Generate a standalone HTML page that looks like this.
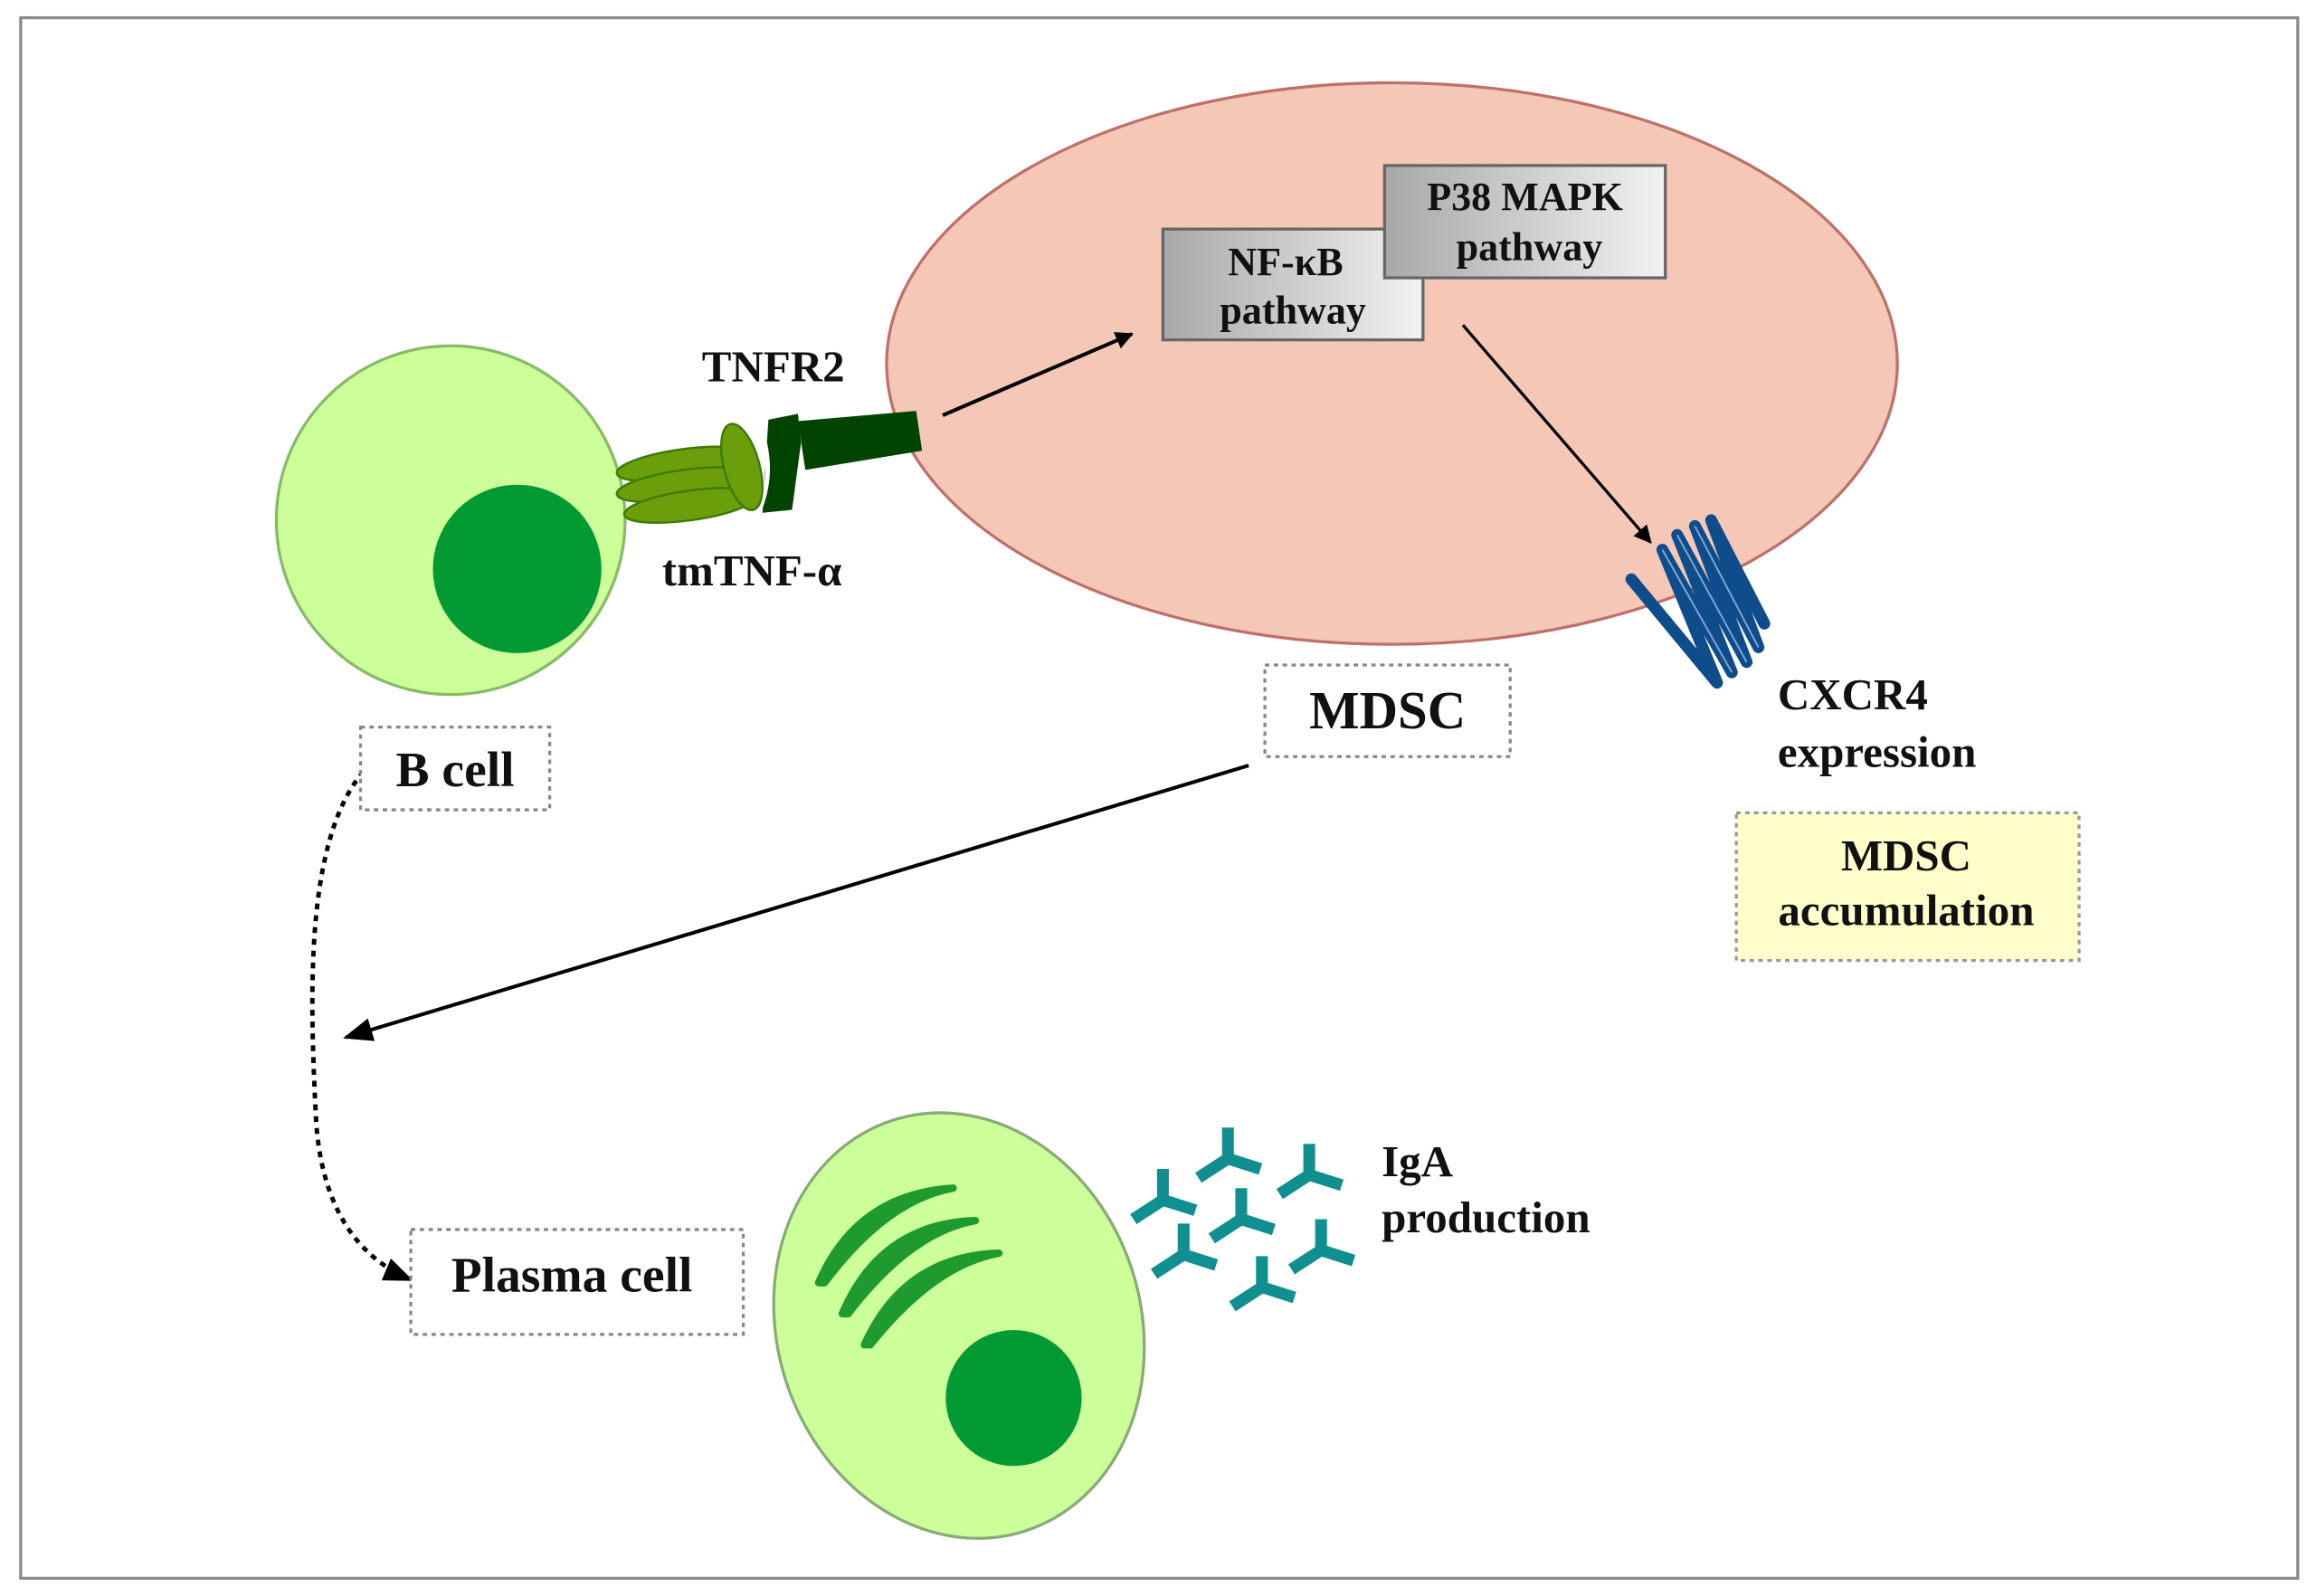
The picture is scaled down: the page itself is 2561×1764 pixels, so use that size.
<!DOCTYPE html>
<html><head><meta charset="utf-8">
<style>html,body{margin:0;padding:0;background:#fff}svg{display:block}
text{font-family:"Liberation Serif",serif;font-weight:bold;fill:#111}</style></head>
<body>
<svg width="2561" height="1764" viewBox="0 0 1568 1080" preserveAspectRatio="none" xmlns="http://www.w3.org/2000/svg">
<defs>
<linearGradient id="g" x1="0" x2="1" y1="0" y2="0"><stop offset="0" stop-color="#a8a8a8"/><stop offset="1" stop-color="#f2f2f2"/></linearGradient>
<marker id="ah" viewBox="0 0 10 10" refX="9" refY="5" markerWidth="16" markerHeight="12" orient="auto" markerUnits="userSpaceOnUse"><path d="M0,0 L10,5 L0,10 z" fill="#000"/></marker>
<marker id="ah2" viewBox="0 0 10 10" refX="9" refY="5" markerWidth="30" markerHeight="20" orient="auto" markerUnits="userSpaceOnUse"><path d="M0,1 L10,5 L0,9 z" fill="#000"/></marker>
</defs>
<rect x="14" y="12" width="1541" height="1056" fill="#fff" stroke="#8a8a8a" stroke-width="2"/>

<ellipse cx="942" cy="246" rx="342" ry="190" fill="#f4c7b7" stroke="#c0706a" stroke-width="2"/>

<circle cx="305" cy="352" r="118" fill="#ccff99" stroke="#88bb66" stroke-width="2"/>
<circle cx="350" cy="385" r="57" fill="#039933"/>

<path d="M540,285 L620,278 L624,305 L545,318 Z" fill="#004400"/>
<path d="M520,284 L540,280 L542,300 L536,345 L516,347 Z" fill="#004400"/>
<path d="M512,283 Q526,315 514,345" fill="none" stroke="#fff" stroke-width="3"/>
<g fill="#6a9e0a" stroke="#3d7a08" stroke-width="1.5">
<ellipse cx="462" cy="314" rx="45" ry="10" transform="rotate(-8 462 314)"/>
<ellipse cx="463" cy="328" rx="46" ry="10" transform="rotate(-8 463 328)"/>
<ellipse cx="467" cy="342" rx="45" ry="10" transform="rotate(-8 467 342)"/>
<ellipse cx="502" cy="316" rx="12" ry="30" transform="rotate(-15 502 316)"/>
</g>
<text x="475" y="258" font-size="30">TNFR2</text>
<text x="448" y="396" font-size="30">tmTNF-α</text>

<rect x="787" y="155" width="176" height="75" fill="url(#g)" stroke="#666" stroke-width="2"/>
<text x="870" y="186" font-size="27" text-anchor="middle">NF-κB</text>
<text x="875" y="219" font-size="27" text-anchor="middle">pathway</text>
<rect x="937" y="112" width="190" height="76" fill="url(#g)" stroke="#666" stroke-width="2"/>
<text x="1032" y="142" font-size="27" text-anchor="middle">P38 MAPK</text>
<text x="1035" y="176" font-size="27" text-anchor="middle">pathway</text>

<line x1="638" y1="281" x2="766" y2="226" stroke="#000" stroke-width="2.5" marker-end="url(#ah)"/>
<line x1="990" y1="220" x2="1117" y2="367" stroke="#000" stroke-width="2" marker-end="url(#ah)"/>
<line x1="845" y1="518" x2="234" y2="702" stroke="#000" stroke-width="2.5" marker-end="url(#ah2)"/>
<path d="M246,522 C205,570 210,680 214,760 C218,815 240,850 278,866" fill="none" stroke="#000" stroke-width="3" stroke-dasharray="4,4" marker-end="url(#ah2)"/>

<path d="M1104,392 L1162,462 L1125,372 L1172,455 L1135,362 L1182,448 L1147,356 L1190,438 L1158,352 L1194,422" fill="none" stroke="#0f4c8c" stroke-width="8" stroke-linecap="round" stroke-linejoin="round"/>
<path d="M1125,372 L1172,455 M1135,362 L1182,448 M1147,356 L1190,438" fill="none" stroke="#7fa6d0" stroke-width="1.2"/>

<rect x="244" y="492" width="128" height="56" fill="#fff" stroke="#888" stroke-width="2" stroke-dasharray="3,3"/>
<text x="308" y="532" font-size="34" text-anchor="middle">B cell</text>
<rect x="856" y="450" width="166" height="62" fill="#fff" stroke="#888" stroke-width="2" stroke-dasharray="3,3"/>
<text x="939" y="493" font-size="36" text-anchor="middle">MDSC</text>
<text x="1203" y="480" font-size="30">CXCR4</text>
<text x="1203" y="519" font-size="30">expression</text>
<rect x="1175" y="550" width="232" height="100" fill="#ffffcc" stroke="#999" stroke-width="2" stroke-dasharray="3,3"/>
<text x="1290" y="589" font-size="30" text-anchor="middle">MDSC</text>
<text x="1290" y="626" font-size="30" text-anchor="middle">accumulation</text>
<rect x="278" y="832" width="225" height="71" fill="#fff" stroke="#888" stroke-width="2" stroke-dasharray="3,3"/>
<text x="387" y="874" font-size="34" text-anchor="middle">Plasma cell</text>

<ellipse cx="649" cy="897" rx="123" ry="146" transform="rotate(-18 649 897)" fill="#ccff99" stroke="#88aa77" stroke-width="2"/>
<circle cx="686" cy="946" r="46" fill="#039933"/>
<g fill="#1f9a2f">
<path d="M554,868 Q580,808 645,804 Q600,812 558,868 Z" stroke="#1f9a2f" stroke-width="5" stroke-linejoin="round"/>
<path d="M570,889 Q596,828 660,826 Q616,834 574,889 Z" stroke="#1f9a2f" stroke-width="5" stroke-linejoin="round"/>
<path d="M585,910 Q612,850 676,848 Q632,856 589,910 Z" stroke="#1f9a2f" stroke-width="5" stroke-linejoin="round"/>
</g>

<g stroke="#0f8f8f" stroke-width="8" fill="none">
<path d="M831,763 L831,784 M811,797 L831,784 L853,791"/>
<path d="M886,774 L886,795 M866,808 L886,795 L908,802"/>
<path d="M787,791 L787,812 M767,825 L787,812 L809,819"/>
<path d="M840,804 L840,825 M820,838 L840,825 L862,832"/>
<path d="M801,828 L801,849 M781,862 L801,849 L823,856"/>
<path d="M894,825 L894,846 M874,859 L894,846 L916,853"/>
<path d="M854,850 L854,871 M834,884 L854,871 L876,878"/>
</g>
<text x="935" y="796" font-size="30">IgA</text>
<text x="935" y="834" font-size="30">production</text>
</svg>
</body></html>
